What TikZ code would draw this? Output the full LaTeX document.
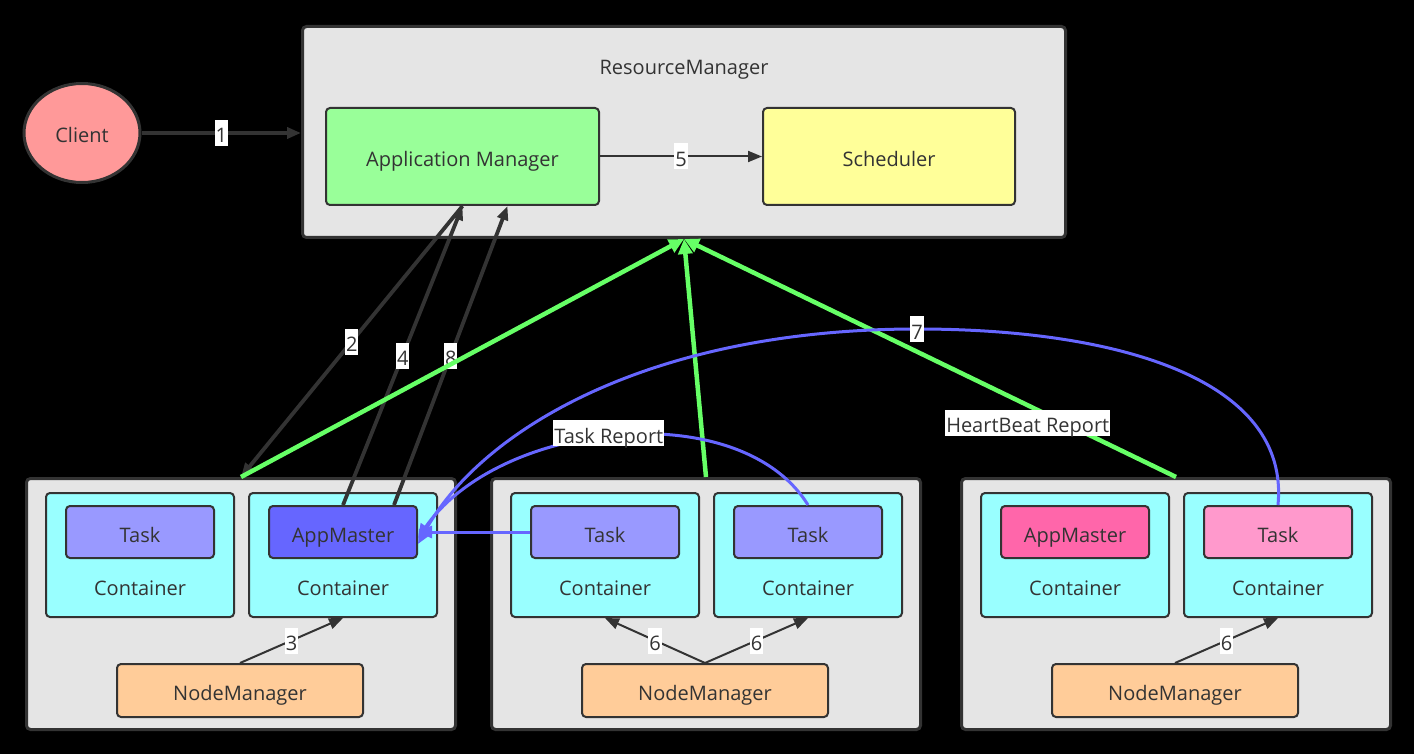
\documentclass[tikz,border=0pt]{standalone}
\usepackage{fontspec}
\setmainfont{Open Sans}
\usetikzlibrary{arrows.meta,shapes.geometric}

\definecolor{linegray}{HTML}{333333}
\definecolor{txtgray}{HTML}{333333}
\definecolor{panelgray}{HTML}{E5E5E5}
\definecolor{clientpink}{HTML}{FF9999}
\definecolor{appgreen}{HTML}{99FF99}
\definecolor{schedyellow}{HTML}{FFFF99}
\definecolor{contcyan}{HTML}{99FFFF}
\definecolor{tasklilac}{HTML}{9999FF}
\definecolor{masterblue}{HTML}{6666FF}
\definecolor{masterpink}{HTML}{FF66AA}
\definecolor{taskpink}{HTML}{FF99CC}
\definecolor{nmorange}{HTML}{FFCC99}
\definecolor{hbgreen}{HTML}{66FF66}
\definecolor{reportblue}{HTML}{6666FF}

\begin{document}
\begin{tikzpicture}[x=1pt,y=-1pt,>={Triangle[length=14pt,width=11pt]},
    every node/.style={font=\fontsize{20}{24}\selectfont,text=txtgray,text height=22pt,text depth=2pt},
    box/.style={draw=linegray,line width=2pt,rounded corners=4pt,anchor=north west,inner sep=0pt},
    panel/.style={box,fill=panelgray,line width=3pt},
    contbox/.style={box,fill=contcyan,minimum width=188pt,minimum height=124pt,
        label={[anchor=center,yshift=-30pt]center:Container}},
    innerbox/.style={box,minimum width=148pt,minimum height=52pt},
    nmbox/.style={box,fill=nmorange,minimum width=246pt,minimum height=53pt},
    lbl/.style={fill=white,inner sep=1pt},
    darkarrow/.style={draw=linegray,line width=3.8pt},
    thinarrow/.style={draw=linegray,line width=2pt},
    greenarrow/.style={draw=hbgreen,line width=4.5pt,>={Triangle[length=15pt,width=14pt]}},
    bluearrow/.style={draw=reportblue,line width=3pt,>={Triangle[length=14pt,width=12pt]}}]

    % fondo
    \fill[black] (0,0) rectangle (1414,754);

    % ResourceManager
    \node[panel,minimum width=763pt,minimum height=211pt,
        label={[anchor=center,yshift=-40pt]north:ResourceManager}] (rm) at (301,25) {};
    \node[box,fill=appgreen,minimum width=273pt,minimum height=97pt] (appmgr) at (325,107) {Application Manager};
    \node[box,fill=schedyellow,minimum width=252pt,minimum height=97pt] (sched) at (762,107) {Scheduler};

    \node[ellipse,draw=linegray,line width=3pt,fill=clientpink,minimum width=116pt,minimum height=99pt] (client) at (82,133) {Client};

    % nodos
    \foreach \n/\x in {1/25,2/490,3/960} {
        \node[panel,minimum width=429pt,minimum height=251pt] (box\n) at (\x,477) {};
        \node[contbox] (cl\n) at (\x+20,492) {};
        \node[contbox] (cr\n) at (\x+223,492) {};
        \node[nmbox] (nm\n) at (\x+91,663) {NodeManager};
    }

    \node[innerbox,fill=tasklilac] (task1) at (65,505) {Task};
    \node[innerbox,fill=masterblue] (appm1) at (268,505) {AppMaster};
    \node[innerbox,fill=tasklilac] (task2a) at (530,505) {Task};
    \node[innerbox,fill=tasklilac] (task2b) at (733,505) {Task};
    \node[innerbox,fill=masterpink] (appm3) at (1000,505) {AppMaster};
    \node[innerbox,fill=taskpink] (task3) at (1203,505) {Task};

    % flechas negras
    \draw[darkarrow,->] (client.east) -- node[lbl]{1} (client.east -| rm.west);
    \draw[thinarrow,->] (appmgr.east) -- node[lbl]{5} (appmgr.east -| sched.west);
    \draw[darkarrow,->] (appmgr.south) -- node[lbl]{2} (box1.north);
    \draw[darkarrow,->] (appm1.north) -- node[lbl]{4} (appmgr.south);
    \draw[darkarrow,->] ([xshift=51pt]appm1.north) -- node[lbl]{8} ([xshift=45pt]appmgr.south);
    \draw[thinarrow,->] (nm1.north) -- node[lbl]{3} (cr1.south);
    \draw[thinarrow,->] (nm2.north) -- node[lbl]{6} (cl2.south);
    \draw[thinarrow,->] (nm2.north) -- node[lbl]{6} (cr2.south);
    \draw[thinarrow,->] (nm3.north) -- node[lbl]{6} (cr3.south);

    % HeartBeat (verde)
    \draw[greenarrow,->] (box1.north) -- (rm.south);
    \draw[greenarrow,->] (box2.north) -- (rm.south);
    \draw[greenarrow,->] (box3.north) -- node[lbl,pos=0.22,xshift=-40pt,yshift=2pt]{HeartBeat Report} (rm.south);

    % Task Report (azul)
    \draw[bluearrow,->] (task2a.west) -- (task2a.west -| appm1.east);
    \draw[bluearrow,->] (task2b.north) .. controls (740,395) and (500,420) .. node[lbl,pos=0.52,yshift=4pt]{Task Report} ([yshift=-6pt]appm1.east);
    \draw[bluearrow,->] (task3.north) .. controls (1290,380) and (1120,329) .. (917,329)
        node[lbl]{7} .. controls (650,329) and (480,430) .. ([yshift=-12pt]appm1.east);

\end{tikzpicture}
\end{document}
